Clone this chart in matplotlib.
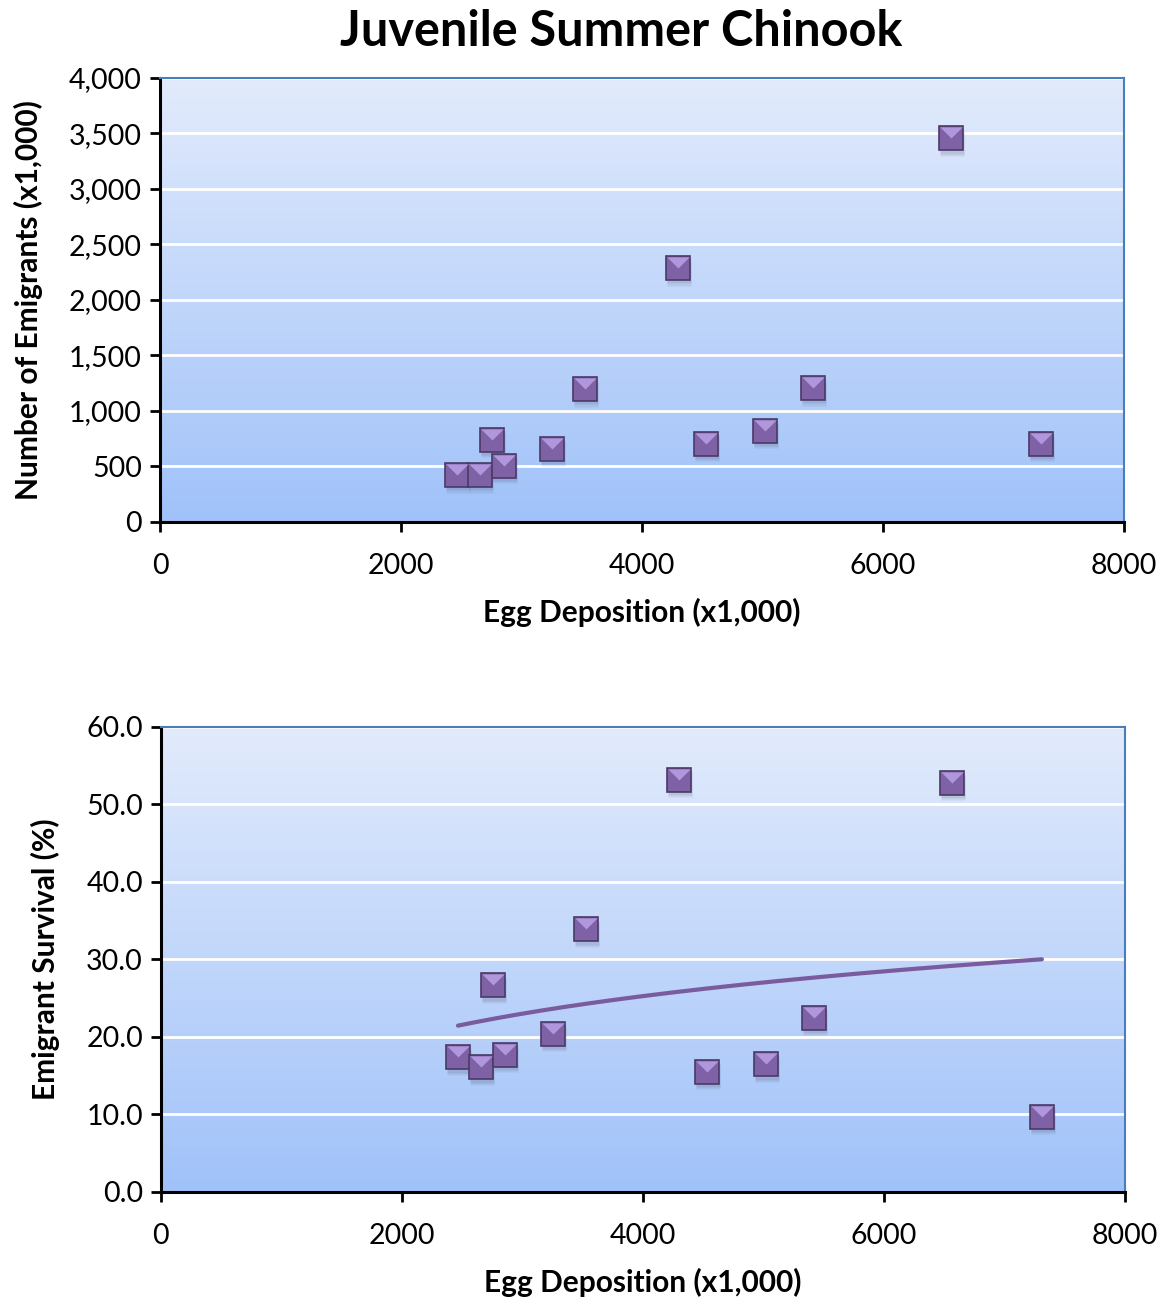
import numpy as np
import matplotlib
matplotlib.use("Agg")
import matplotlib.pyplot as plt
import matplotlib.transforms as mtrans
from matplotlib.path import Path
from matplotlib.colors import LinearSegmentedColormap
from matplotlib.ticker import FuncFormatter

# egg deposition (x1,000) vs emigrants (x1,000) and survival (%)
eggs = [2465, 2656, 2755, 2855, 3253, 3527, 4299, 4531, 5021, 5419, 6564, 7311]
emigrants = [423, 423, 739, 505, 658, 1198, 2288, 703, 820, 1207, 3459, 703]
survival = [17.4, 16.1, 26.7, 17.7, 20.4, 33.9, 53.2, 15.5, 16.5, 22.5, 52.8, 9.7]

plt.rcParams['font.family'] = ['Lato', 'DejaVu Sans']

fig = plt.figure(figsize=(11.62, 13), dpi=100)
ax1 = fig.add_axes([0.1377, 0.5985, 0.8296, 0.3415])
ax2 = fig.add_axes([0.1385, 0.0831, 0.8296, 0.3577])

bg = LinearSegmentedColormap.from_list("bg", ["#a0c2f9", "#e2ebfc"])
top_tri = Path([(-1, 1), (1, 1), (0, 0), (-1, 1)], [Path.MOVETO, Path.LINETO, Path.LINETO, Path.CLOSEPOLY])


def style(ax, ymax, ystep, fmt):
    ax.imshow(np.linspace(0, 1, 256).reshape(-1, 1), cmap=bg, origin="lower", aspect="auto",
              extent=[0, 1, 0, 1], transform=ax.transAxes, zorder=0)
    ax.set_xlim(0, 8000)
    ax.set_ylim(0, ymax)
    ax.set_xticks(np.arange(0, 8001, 2000))
    ax.set_yticks(np.arange(0, ymax + 0.001, ystep))
    ax.yaxis.set_major_formatter(FuncFormatter(fmt))
    ax.grid(axis='y', color='white', linewidth=2)
    ax.set_axisbelow(True)
    for s in ['left', 'bottom']:
        ax.spines[s].set_linewidth(2.2)
        ax.spines[s].set_color('black')
    for s in ['top', 'right']:
        ax.spines[s].set_linewidth(1.5)
        ax.spines[s].set_color('#4a7ebb')
    ax.tick_params(direction='out', length=7, width=2, labelsize=20.5, pad=6)
    ax.tick_params(axis='x', pad=15)
    ax.set_xlabel("Egg Deposition (x1,000)", fontsize=21.5, fontweight='bold', labelpad=14)


def points(ax, x, y):
    # soft drop shadow, square body, lighter top facet
    for dy, al in [(-4, 0.08), (-2.5, 0.10)]:
        ax.plot(x, y, 's', ms=17.5, color='#2c2545', alpha=al, mec='none', zorder=3,
                transform=ax.transData + mtrans.ScaledTranslation(1/72, dy/72, fig.dpi_scale_trans))
    ax.plot(x, y, 's', ms=17.5, mfc='#7e62a5', mec='#4a3a66', mew=1.2, zorder=4)
    ax.plot(x, y, marker=top_tri, ms=16, ls='none', mfc='#b096dc', mec='none', zorder=5)


style(ax1, 4000, 500, lambda v, p: f"{v:,.0f}")
points(ax1, eggs, emigrants)
ax1.set_ylabel("Number of Emigrants (x1,000)", fontsize=21.5, fontweight='bold', labelpad=19)
fig.text(621 / 1162, 1 - 31 / 1300, "Juvenile Summer Chinook", fontsize=35, fontweight='bold',
         ha='center', va='center')

style(ax2, 60, 10, lambda v, p: f"{v:.1f}")
# logarithmic trendline
a, b = np.polyfit(np.log(eggs), survival, 1)
xt = np.linspace(min(eggs), max(eggs), 200)
ax2.plot(xt, a * np.log(xt) + b, color='#7a5c9e', lw=3, solid_capstyle='round', zorder=2.5)
points(ax2, eggs, survival)
ax2.set_ylabel("Emigrant Survival (%)", fontsize=21.5, fontweight='bold', labelpad=19)

fig.savefig("out.png", dpi=100)
